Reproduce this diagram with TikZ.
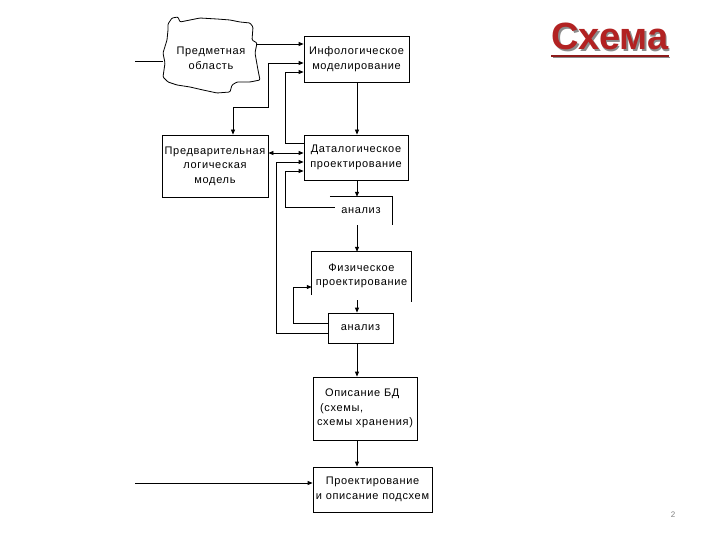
\documentclass[tikz,border=0pt]{standalone}
\usepackage{fontspec}
\setmainfont{Liberation Sans}
\newfontfamily\lbl[LetterSpace=6]{Liberation Sans}
\newfontfamily\ttl{Liberation Sans}
\usetikzlibrary{arrows.meta}
\definecolor{titlered}{RGB}{178,34,34}
\begin{document}
\begin{tikzpicture}[x=1pt,y=-1pt,
  every node/.style={font=\lbl\fontsize{11}{14.5}\selectfont},
  box/.style={draw, line width=0.8pt, inner sep=0pt, align=center},
  lab/.style={inner sep=0pt, align=center},
  line/.style={line width=0.8pt},
  conn/.style={line width=0.8pt, -{Triangle[length=5pt,width=4pt]}},
  dbl/.style={line width=0.8pt, {Triangle[length=5pt,width=4pt]}-{Triangle[length=5pt,width=4pt]}},
]
\useasboundingbox (0,0) rectangle (720,540);

% cloud (subject area)
\draw[line, rounded corners=1pt] (168,24) -- (172,18) -- (178,17) -- (180,22) -- (190,20) -- (200,18)
  -- (217,19) -- (230,20) -- (240,22) -- (250,23) -- (253,27) -- (252,40) -- (257,43)
  -- (255,53) -- (258,70) -- (260,80) -- (250,82) -- (237,82) -- (232,85) -- (230,92)
  -- (217,93) -- (203,90) -- (190,87) -- (177,85) -- (168,82) -- (163,77) -- (165,63)
  -- (163,53) -- (167,40) -- (168,30) -- cycle;
\node[lab] (cloudtxt) at (211,58.5) {Предметная\\область};
\coordinate (cl) at (163,61);
\coordinate (cr) at (256,44);
\coordinate (in1) at (135,61);
\coordinate (in2) at (135,483);
\coordinate (sp) at (357,0);

% boxes
\node[box, minimum width=105pt, minimum height=46pt] (info) at (356.5,59) {Инфологическое\\моделирование};
\node[box, minimum width=104pt, minimum height=45pt] (datal) at (356,157.5) {Даталогическое\\проектирование};
\node[box, minimum width=106pt, minimum height=62pt] (pre) at (215,166) {Предварительная\\логическая\\модель};
\node[lab, minimum width=62pt, minimum height=28pt] (an1) at (361,211) {анализ};
\node[lab, minimum width=99pt, minimum height=48pt] (phys) at (361.5,276) {Физическое\\проектирование};
\node[box, minimum width=65pt, minimum height=30pt] (an2) at (360.5,328) {анализ};
\node[box, minimum width=104pt, minimum height=63pt, align=left] (opis) at (365,408.5)
  {\hspace*{8pt}Описание БД\\\hspace*{3pt}(схемы,\\схемы хранения)};
\node[box, minimum width=119pt, minimum height=45pt] (proj) at (372.5,489.5) {Проектирование\\и описание подсхем};

% partial borders
\draw[line] (an1.north west) -- (an1.north east) -- (an1.south east);
\draw[line] ([yshift=5pt]phys.south west) -- (phys.north west) -- (phys.north east) -- ([yshift=-2pt]phys.south east);

% inputs
\draw[line] (in1) -- (cl);
\draw[conn] (in2) -- (in2 -| proj.west);
\draw[conn] (cr) -- (cr -| info.west);

% main chain
\draw[conn] (sp |- info.south) -- (sp |- datal.north);
\draw[conn] (sp |- datal.south) -- (sp |- an1.north);
\draw[conn] (sp |- an1.south) -- (sp |- phys.north);
\draw[conn] (sp |- phys.south) -- (sp |- an2.north);
\draw[conn] (sp |- an2.south) -- (sp |- opis.north);
\draw[conn] (sp |- opis.south) -- (sp |- proj.north);

% feedback and links
\draw[dbl] ([xshift=18pt]pre.north) -- ++(0,-27) -- ++(35,0) |- ([yshift=-4pt]info.west);
\draw[conn] ([yshift=14.5pt]datal.west) -- ++(-18,0) |- ([yshift=-13pt]info.west);
\draw[dbl] ([yshift=4.5pt]datal.west) -- ([yshift=4.5pt]datal.west -| pre.east);
\draw[conn] ([yshift=-5pt]an2.west) -- ++(-51,0) |- ([yshift=-4.5pt]datal.west);
\draw[conn] ([xshift=5pt,yshift=4pt]an1.west) -- ++(-49,0) |- ([yshift=-13.5pt]datal.west);
\draw[conn] ([yshift=5pt]an2.west) -- ++(-34,0) |- ([yshift=-11pt]phys.west);

% title
\node[anchor=base, inner sep=0pt, font=\ttl\bfseries\fontsize{38}{40}\selectfont, text=black!45] at (611.5,51.5) {Схема};
\node[anchor=base, inner sep=0pt, font=\ttl\bfseries\fontsize{38}{40}\selectfont, text=titlered] (title) at (610,50) {Схема};
\draw[line width=1.6pt, black!45] ([xshift=1.5pt,yshift=-7.5pt]title.base west) -- ([xshift=1.5pt,yshift=-7.5pt]title.base east);
\draw[line width=1.6pt, titlered!80!black] ([yshift=-6pt]title.base west) -- ([yshift=-6pt]title.base east);

% page number
\node[font=\ttl\fontsize{8}{9}\selectfont, text=gray] (pg) at (673,515) {2};
\end{tikzpicture}
\end{document}
